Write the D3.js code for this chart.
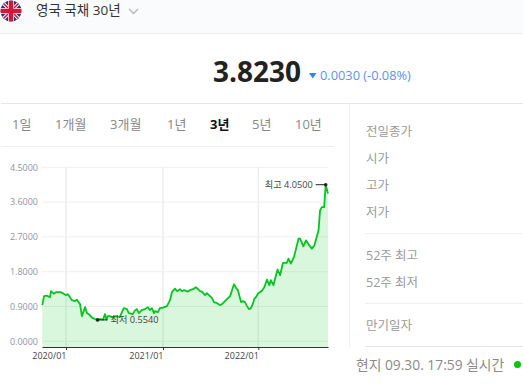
<!DOCTYPE html>
<html>
<head>
<meta charset="utf-8">
<script src="https://cdn.jsdelivr.net/npm/d3@7"></script>
<style>
  html, body { margin: 0; padding: 0; background: #fff; overflow: hidden; }
  svg { display: block; }
  text { font-family: "Open Sans", "Noto Sans CJK KR", sans-serif; }
</style>
</head>
<body>
<div id="chart"></div>
<script>
const dates = ["2019-10-01","2019-10-08","2019-10-19","2019-10-31","2019-11-04","2019-11-15","2019-11-23","2019-12-09","2019-12-20","2020-01-01",
  "2020-01-08","2020-01-16","2020-01-23","2020-02-04","2020-02-11","2020-02-23","2020-03-01","2020-03-13","2020-03-20","2020-03-31",
  "2020-04-08","2020-04-19","2020-04-29","2020-05-08","2020-05-20","2020-05-27","2020-06-02","2020-06-07","2020-06-15","2020-06-26",
  "2020-07-07","2020-07-22","2020-07-30","2020-08-06","2020-08-18","2020-08-25","2020-09-09","2020-09-17","2020-09-24","2020-10-02",
  "2020-10-13","2020-10-25","2020-11-05","2020-11-12","2020-11-20","2020-11-28","2020-12-01","2020-12-13","2020-12-20","2021-01-01",
  "2021-01-16","2021-01-28","2021-02-04","2021-02-16","2021-02-24","2021-03-07","2021-03-15","2021-03-22","2021-04-07","2021-04-14",
  "2021-04-26","2021-05-07","2021-05-15","2021-05-23","2021-05-30","2021-06-11","2021-06-18","2021-07-08","2021-07-15","2021-07-27",
  "2021-08-07","2021-08-15","2021-08-30","2021-09-15","2021-09-26","2021-09-30","2021-10-08","2021-10-15","2021-10-23","2021-10-27",
  "2021-11-03","2021-11-11","2021-11-19","2021-11-26","2021-12-04","2021-12-12","2021-12-16","2021-12-23","2022-01-01","2022-01-15",
  "2022-01-25","2022-02-04","2022-02-13","2022-02-19","2022-03-01","2022-03-17","2022-03-27","2022-04-07","2022-04-22","2022-04-29",
  "2022-05-08","2022-05-21","2022-06-07","2022-06-13","2022-06-26","2022-07-06","2022-07-16","2022-07-29","2022-08-08","2022-08-24",
  "2022-08-30","2022-09-06","2022-09-15","2022-09-21","2022-09-30"]
const yields = [0.936,1.168,1.18,1.14,1.296,1.232,1.27,1.27,1.245,1.193,
  1.219,1.142,1.064,1.039,1.077,0.961,0.652,0.884,0.729,0.678,
  0.613,0.575,0.554,0.575,0.56,0.704,0.56,0.652,0.652,0.613,
  0.652,0.626,0.755,0.858,0.832,0.729,0.704,0.794,0.832,0.729,
  0.807,0.832,0.884,0.807,0.858,0.729,0.781,0.755,0.858,0.871,
  0.91,1.064,1.27,1.361,1.296,1.348,1.296,1.322,1.284,1.322,
  1.348,1.399,1.348,1.296,1.284,1.193,1.245,1.116,1.013,0.987,
  0.936,0.961,1.064,1.168,1.399,1.476,1.374,1.322,1.116,1.013,
  1.039,1.013,0.91,0.832,0.858,0.987,1.09,1.142,1.245,1.304,
  1.407,1.598,1.451,1.58,1.451,1.856,1.709,2.026,2.026,2.139,
  2.01,2.198,2.655,2.655,2.456,2.611,2.508,2.397,2.482,2.869,
  3.384,3.469,3.469,4.05,3.823]

const yTicks = [0, 0.9, 1.8, 2.7, 3.6, 4.5]
const xTicks = ["2020-01-01", "2021-01-01", "2022-01-01"]
const tabs = ["1일", "1개월", "3개월", "1년", "3년", "5년", "10년"]
const tabX = [12, 55, 110, 167, 210, 252, 295]
const activeTab = "3년"
const sideLabels = ["전일종가", "시가", "고가", "저가", "52주 최고", "52주 최저", "만기일자"]
const sideY = [131, 158, 185, 212, 255, 282, 325]
const sideRules = [233, 303]

const parse = d3.utcParse("%Y-%m-%d")
const points = dates.map((d, i) => ({date: parse(d), value: yields[i]}))

const svg = d3.select("#chart").append("svg")
  .attr("width", 523).attr("height", 389)

// trading-day axis in the original is not quite linear in time, hence the piecewise domain
const x = d3.scaleUtc()
  .domain(["2019-09-30", "2020-01-01", "2021-01-01", "2022-01-01", "2022-09-30"].map(parse))
  .range([42, 66, 163, 258.3, 328])
const y = d3.scaleLinear().domain([0, 4.5]).range([341.3, 167.3])
const plotBottom = 347

// header strip
svg.append("rect").attr("width", 523).attr("height", 33).attr("fill", "#fafbfd")
svg.append("line").attr("x1", 0).attr("x2", 523).attr("y1", 33.5).attr("y2", 33.5).attr("stroke", "#ececec")

// flag
const defs = svg.append("defs")
defs.append("clipPath").attr("id", "flagClip").append("circle").attr("cx", 11).attr("cy", 11).attr("r", 10.5)
const flag = svg.append("g").attr("clip-path", "url(#flagClip)")
flag.append("rect").attr("width", 22).attr("height", 22).attr("fill", "#1a3a8c")
flag.append("path").attr("d", "M0,0L22,22M22,0L0,22").attr("stroke", "#f2f2f2").attr("stroke-width", 3.5)
flag.append("path").attr("d", "M0,0L22,22M22,0L0,22").attr("stroke", "#d8143a").attr("stroke-width", 1.5)
flag.append("path").attr("d", "M11,0V22M0,11H22").attr("stroke", "#f2f2f2").attr("stroke-width", 6)
flag.append("path").attr("d", "M11,0V22M0,11H22").attr("stroke", "#d8143a").attr("stroke-width", 4.5)

svg.append("text").attr("x", 36).attr("y", 14.5)
  .attr("font-size", 13.5).attr("fill", "#333").text("영국 국채 30년")
svg.append("path").attr("d", "M129,9L133.5,13.5L138,9").attr("fill", "none").attr("stroke", "#b5b5b5").attr("stroke-width", 1.3)

// quote
svg.append("text").attr("x", 213).attr("y", 82)
  .attr("font-size", 28).attr("font-weight", 700).attr("fill", "#222").text("3.8230")
svg.append("path").attr("d", "M309,73H316.5L312.75,78.5Z").attr("fill", "#2f86ee")
svg.append("text").attr("x", 320).attr("y", 80)
  .attr("font-size", 12.8).attr("fill", "#5f8ff5").text("0.0030 (-0.08%)")

// panel rules
svg.append("line").attr("x1", 1).attr("x2", 523).attr("y1", 103.5).attr("y2", 103.5).attr("stroke", "#e6e6e6")
svg.append("line").attr("x1", 1).attr("x2", 334).attr("y1", 146.5).attr("y2", 146.5).attr("stroke", "#eeeeee")
svg.append("line").attr("x1", 349.5).attr("x2", 349.5).attr("y1", 103).attr("y2", 347).attr("stroke", "#f0f0f0")

// period tabs
svg.append("g").selectAll("text").data(tabs).join("text")
  .attr("x", (d, i) => tabX[i]).attr("y", 129)
  .attr("font-size", 13)
  .attr("font-weight", d => d === activeTab ? 700 : 400)
  .attr("fill", d => d === activeTab ? "#111" : "#888")
  .text(d => d)

// side table
svg.append("g").selectAll("text").data(sideLabels).join("text")
  .attr("x", 366).attr("y", (d, i) => sideY[i] + 4.5)
  .attr("font-size", 12.5).attr("fill", "#9a9a9a")
  .text(d => d)
svg.append("g").selectAll("line").data(sideRules).join("line")
  .attr("x1", 365).attr("x2", 523).attr("y1", d => d + 0.5).attr("y2", d => d + 0.5)
  .attr("stroke", "#f0f0f0")
svg.append("line").attr("x1", 365).attr("x2", 523).attr("y1", 346.5).attr("y2", 346.5).attr("stroke", "#e4e4e4")

svg.append("text").attr("x", 356).attr("y", 369.5)
  .attr("font-size", 13.8).attr("fill", "#8a8a8a").text("현지 09.30. 17:59 실시간")
svg.append("circle").attr("cx", 517.5).attr("cy", 364.5).attr("r", 3.5).attr("fill", "#06c406")

// grid, under the translucent area
svg.append("g").selectAll("line").data(yTicks).join("line")
  .attr("x1", 42).attr("x2", 328).attr("y1", d => y(d)).attr("y2", d => y(d))
  .attr("stroke", "#efefef")
svg.append("g").selectAll("line").data(xTicks).join("line")
  .attr("x1", d => x(parse(d))).attr("x2", d => x(parse(d)))
  .attr("y1", y(4.5)).attr("y2", plotBottom)
  .attr("stroke", "#eeeeee").attr("stroke-width", 1.6)

const area = d3.area().x(d => x(d.date)).y0(plotBottom).y1(d => y(d.value))
const line = d3.line().x(d => x(d.date)).y(d => y(d.value))
svg.append("path").datum(points).attr("d", area).attr("fill", "#00c81e").attr("fill-opacity", 0.15)
svg.append("path").datum(points).attr("d", line)
  .attr("fill", "none").attr("stroke", "#06c41e").attr("stroke-width", 1.8).attr("stroke-linejoin", "round")

// axes
const yAxis = d3.axisLeft(y).tickValues(yTicks).tickFormat(d3.format(".4f")).tickSize(0).tickPadding(4)
const yG = svg.append("g").attr("transform", "translate(42,0)").call(yAxis)
yG.select(".domain").remove()
yG.selectAll("text").attr("font-size", 9).attr("fill", "#8f959e").style("font-family", '"Open Sans", sans-serif')

const xAxis = d3.axisBottom(x).tickValues(xTicks.map(parse)).tickFormat(d3.utcFormat("%Y/%m")).tickSize(3).tickPadding(3).tickSizeOuter(0)
const xG = svg.append("g").attr("transform", `translate(0,${plotBottom})`).call(xAxis)
xG.select(".domain").attr("stroke", "#333")
xG.selectAll("line").attr("stroke", "#333")
xG.selectAll("text").attr("font-size", 9).attr("fill", "#444").attr("text-anchor", "end")
  .style("font-family", '"Open Sans", sans-serif')

// high / low callouts
const maxPt = points[d3.greatestIndex(points, d => d.value)]
const minPt = points[d3.leastIndex(points, d => d.value)]
const callout = (pt, label, dir) => {
  const cx = x(pt.date), cy = y(pt.value)
  svg.append("line").attr("x1", cx).attr("x2", cx + dir * 10).attr("y1", cy).attr("y2", cy).attr("stroke", "#222")
  svg.append("circle").attr("cx", cx).attr("cy", cy).attr("r", 1.8).attr("fill", "#222")
  svg.append("text").attr("x", cx + dir * 13).attr("y", cy + 3.2)
    .attr("text-anchor", dir < 0 ? "end" : "start")
    .attr("font-size", 9.2).attr("fill", "#444").text(label + " " + pt.value.toFixed(4))
}
callout(maxPt, "최고", -1)
callout(minPt, "최저", 1)
</script>
</body>
</html>
